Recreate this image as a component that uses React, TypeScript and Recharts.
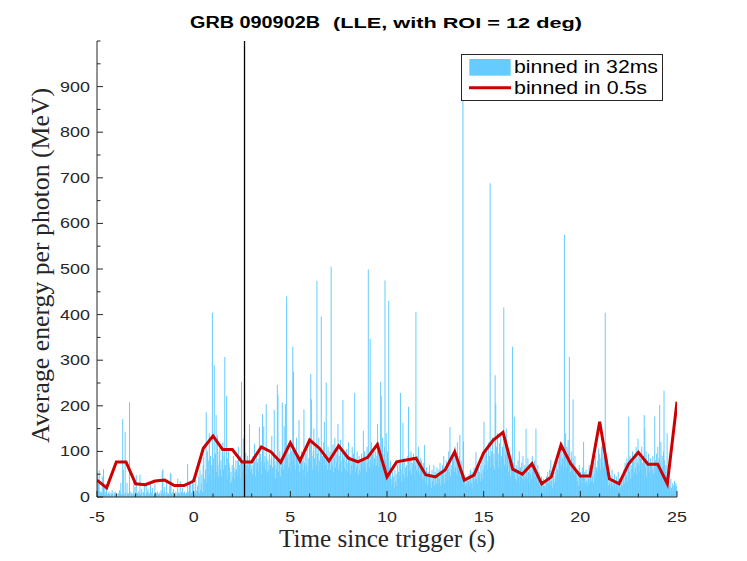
import React from 'react';
import {
  ComposedChart, Bar, Line, XAxis, YAxis, ReferenceLine,
} from 'recharts';

// 32 ms bins, starting at t = -5 s (25 bins = 0.8 s per row)
const energy32ms: number[] = [
  52, 8, 30, 58, 5, 12, 0, 10, 45, 6, 61, 9, 20, 4, 11, 28, 7, 0, 8, 12, 5, 0, 9, 6, 15,
  7, 0, 10, 5, 12, 0, 8, 6, 0, 9, 4, 15, 11, 31, 6, 0, 171, 60, 8, 5, 143, 10, 0, 31, 7,
  9, 5, 208, 12, 0, 7, 10, 4, 8, 35, 6, 22, 11, 48, 0, 9, 5, 13, 7, 49, 6, 10, 18, 0, 8,
  11, 25, 6, 0, 30, 8, 12, 18, 5, 9, 0, 33, 7, 10, 20, 4, 0, 8, 28, 11, 6, 9, 12, 0, 7,
  5, 10, 0, 15, 8, 57, 61, 6, 12, 22, 0, 9, 30, 5, 10, 7, 0, 25, 53, 51, 8, 6, 11, 18, 0,
  9, 6, 12, 0, 7, 40, 10, 5, 8, 35, 0, 11, 6, 20, 9, 4, 12, 0, 7, 10, 5, 72, 8, 13, 30,
  6, 35, 10, 8, 40, 12, 30, 5, 9, 38, 14, 7, 25, 11, 45, 8, 60, 15, 30, 49, 10, 70, 88, 40, 12,
  60, 186, 30, 100, 45, 80, 140, 50, 90, 35, 70, 404, 60, 85, 289, 40, 95, 180, 55, 135, 70, 45, 100, 117, 60,
  80, 45, 100, 120, 60, 90, 307, 70, 50, 222, 85, 40, 100, 75, 65, 30, 55, 35, 70, 45, 90, 64, 40, 55, 80,
  60, 45, 80, 110, 50, 70, 40, 90, 253, 55, 75, 128, 60, 85, 45, 97, 70, 50, 90, 65, 80, 159, 55, 75, 60,
  70, 50, 90, 65, 117, 80, 45, 100, 60, 75, 85, 55, 154, 70, 95, 50, 80, 182, 65, 155, 75, 90, 60, 204, 85,
  55, 80, 60, 95, 45, 70, 85, 134, 65, 50, 90, 191, 70, 40, 80, 60, 246, 225, 55, 75, 100, 45, 85, 65, 207,
  90, 60, 155, 70, 204, 50, 440, 85, 110, 65, 95, 75, 120, 55, 100, 80, 330, 275, 70, 105, 60, 90, 130, 75, 85,
  70, 169, 55, 90, 65, 100, 50, 80, 60, 192, 75, 45, 95, 70, 110, 55, 85, 65, 120, 80, 270, 214, 90, 60, 100,
  150, 85, 60, 110, 70, 474, 95, 55, 130, 80, 65, 100, 396, 75, 90, 60, 120, 165, 85, 70, 251, 95, 60, 110, 80,
  75, 100, 60, 505, 90, 70, 115, 55, 85, 130, 65, 95, 75, 110, 160, 60, 90, 70, 125, 80, 55, 100, 213, 85, 65,
  90, 60, 80, 105, 55, 75, 120, 65, 90, 50, 85, 70, 110, 60, 95, 75, 228, 55, 85, 65, 100, 70, 50, 90, 60,
  75, 55, 95, 65, 80, 145, 60, 100, 70, 85, 55, 110, 75, 499, 90, 65, 347, 80, 120, 60, 95, 70, 105, 85, 65,
  100, 70, 90, 160, 65, 120, 85, 105, 253, 221, 75, 130, 95, 60, 110, 475, 80, 140, 70, 100, 85, 430, 65, 55, 80,
  40, 25, 55, 30, 45, 20, 60, 35, 50, 25, 70, 40, 55, 80, 45, 228, 60, 35, 75, 163, 50, 85, 40, 65, 55,
  70, 45, 90, 198, 55, 80, 60, 100, 50, 75, 65, 95, 45, 85, 70, 406, 60, 90, 55, 110, 75, 50, 85, 65, 80,
  60, 40, 75, 35, 114, 50, 30, 65, 45, 25, 55, 40, 70, 30, 50, 20, 60, 35, 45, 70, 25, 55, 40, 30, 65,
  45, 30, 60, 40, 75, 25, 55, 35, 70, 45, 90, 30, 60, 50, 80, 40, 65, 35, 100, 55, 153, 45, 70, 60, 85,
  70, 95, 55, 110, 65, 85, 50, 120, 75, 60, 90, 136, 45, 80, 60, 40, 905, 122, 35, 50, 25, 40, 30, 45, 20,
  35, 50, 25, 60, 40, 30, 55, 20, 45, 65, 35, 50, 99, 40, 60, 30, 75, 45, 55, 35, 70, 50, 85, 40, 60,
  165, 70, 95, 55, 110, 80, 60, 120, 75, 90, 688, 65, 100, 85, 130, 70, 95, 60, 267, 205, 110, 80, 140, 65, 95,
  118, 75, 140, 90, 60, 110, 85, 416, 70, 125, 95, 150, 65, 100, 80, 55, 90, 70, 45, 85, 60, 330, 50, 75, 176,
  55, 40, 70, 35, 60, 80, 45, 100, 30, 65, 50, 75, 40, 90, 55, 35, 70, 45, 150, 60, 40, 85, 55, 30, 65,
  50, 75, 40, 90, 55, 65, 35, 80, 45, 150, 60, 30, 70, 40, 55, 25, 35, 20, 45, 15, 30, 40, 10, 25, 35,
  20, 45, 15, 55, 30, 40, 60, 25, 81, 35, 50, 20, 65, 40, 30, 55, 45, 70, 35, 60, 80, 50, 95, 65, 110,
  70, 120, 85, 60, 100, 575, 90, 140, 65, 110, 80, 125, 95, 307, 70, 55, 100, 85, 60, 214, 75, 50, 90, 65, 45,
  60, 35, 50, 25, 70, 40, 55, 30, 45, 65, 20, 121, 40, 55, 30, 60, 35, 25, 50, 40, 70, 30, 45, 55, 35,
  45, 60, 30, 75, 50, 90, 40, 65, 55, 80, 106, 70, 95, 60, 85, 110, 75, 130, 65, 90, 100, 404, 70, 55, 85,
  40, 25, 55, 30, 45, 20, 35, 60, 25, 40, 15, 50, 30, 20, 45, 35, 25, 55, 15, 40, 30, 20, 35, 45, 25,
  40, 60, 30, 75, 50, 45, 85, 35, 65, 176, 55, 90, 40, 70, 60, 100, 45, 80, 55, 95, 65, 110, 50, 75, 128,
  70, 95, 55, 85, 60, 110, 75, 50, 90, 180, 150, 65, 100, 45, 80, 60, 95, 70, 55, 85, 40, 75, 60, 90, 50,
  65, 177, 80, 55, 95, 70, 110, 60, 85, 202, 75, 120, 50, 90, 65, 100, 233, 80, 55, 70, 45, 140, 30, 20, 35,
  25, 15, 40, 20, 10, 30, 25, 15, 35, 20, 30, 25,
];

// 0.5 s bins, one value every 0.5 s from -5 to 25
const energy05s: number[] = [
  37, 20, 77, 77, 29, 27, 35, 37, 25, 25,
  35, 107, 134, 104, 104, 77, 77, 110, 99, 76,
  119, 79, 125, 107, 79, 112, 85, 77, 87, 115,
  44, 77, 81, 85, 49, 44, 59, 99, 37, 48,
  97, 125, 142, 61, 50, 73, 29, 44, 114, 73,
  46, 46, 165, 40, 29, 73, 98, 72, 72, 29,
  209,
];

const xTicks = [-5, -4, -3, -2, -1, 0, 1, 2, 3, 4, 5, 6, 7, 8, 9, 10, 11, 12, 13, 14, 15, 16, 17, 18, 19, 20, 21, 22, 23, 24, 25];
const xLabels = [-5, 0, 5, 10, 15, 20, 25];
const yTicks = [0, 50, 100, 150, 200, 250, 300, 350, 400, 450, 500, 550, 600, 650, 700, 750, 800, 850, 900, 950, 1000];
const yLabels = [0, 100, 200, 300, 400, 500, 600, 700, 800, 900];
const triggerMarker = 2.63;

const barRows = energy32ms.map((e, i) => ({ t: -5 + 0.032 * (i + 0.5), e }));
const lineRows = energy05s.map((e, i) => ({ t: -5 + 0.5 * i, e }));

const axisColor = '#262626';
const barColor = '#66ccff';
const sans = '"Liberation Sans", Arial, Helvetica, sans-serif';
const serif = '"Liberation Serif", "Times New Roman", serif';

const tickText = (x: number, y: number, value: number, anchor: 'middle' | 'end') => (
  <text
    x={0}
    y={0}
    transform={`translate(${x},${y}) scale(1.28,1)`}
    textAnchor={anchor}
    fontFamily={sans}
    fontSize={14}
    fill={axisColor}
  >
    {value}
  </text>
);

const BottomTick = (p: any) => {
  const major = xLabels.includes(p.payload.value);
  return (
    <g>
      <line x1={p.x} x2={p.x} y1={p.y} y2={p.y - (major ? 6 : 3.5)} stroke={axisColor} />
      {major && tickText(p.x, p.y + 25, p.payload.value, 'middle')}
    </g>
  );
};

const TopTick = (p: any) => {
  const major = xLabels.includes(p.payload.value);
  return <line x1={p.x} x2={p.x} y1={p.y} y2={p.y + (major ? 6 : 3.5)} stroke={axisColor} />;
};

const LeftTick = (p: any) => {
  const major = yLabels.includes(p.payload.value);
  return (
    <g>
      <line x1={p.x} x2={p.x + (major ? 6 : 3.5)} y1={p.y} y2={p.y} stroke={axisColor} />
      {major && tickText(p.x - 7, p.y + 5, p.payload.value, 'end')}
    </g>
  );
};

const RightTick = (p: any) => {
  const major = p.payload.value % 100 === 0;
  return <line x1={p.x} x2={p.x - (major ? 6 : 3.5)} y1={p.y} y2={p.y} stroke={axisColor} />;
};

// the library squeezes 32 ms bars below a pixel; draw each one 1 px wide around its own centre
const ThinBar = (p: any) => {
  if (!p.height || p.height <= 0) return <g />;
  const cx = p.x + p.width / 2;
  return <rect x={cx - 0.5} y={p.y} width={1} height={p.height} fill={barColor} />;
};

const App: React.FC = () => (
  <div style={{ position: 'fixed', left: 0, top: 0, width: 747, height: 561, background: '#fff' }}>
    <ComposedChart width={747} height={561} data={barRows} margin={{ top: 41, right: 70, bottom: 0, left: 0 }}>
      <XAxis
        xAxisId="b" dataKey="t" type="number" domain={[-5, 25]} ticks={xTicks} interval={0}
        height={64} tickSize={0} tickMargin={0} tickLine={false} tick={BottomTick}
        axisLine={{ stroke: axisColor }} allowDataOverflow
      />
      <XAxis
        xAxisId="t" orientation="top" dataKey="t" type="number" domain={[-5, 25]} ticks={xTicks} interval={0}
        height={0} tickSize={0} tickMargin={0} tickLine={false} tick={TopTick}
        axisLine={{ stroke: axisColor }} allowDataOverflow
      />
      <YAxis
        yAxisId="l" type="number" domain={[0, 1000]} ticks={yTicks} interval={0}
        width={97} tickSize={0} tickMargin={0} tickLine={false} tick={LeftTick}
        axisLine={{ stroke: axisColor }} allowDataOverflow
      />
      <YAxis
        yAxisId="r" orientation="right" type="number" domain={[0, 1000]} ticks={yTicks} interval={0}
        width={0} tickSize={0} tickMargin={0} tickLine={false} tick={RightTick}
        axisLine={{ stroke: axisColor }} allowDataOverflow
      />
      <Bar
        xAxisId="b" yAxisId="l" dataKey="e" name="binned in 32ms"
        fill={barColor} shape={ThinBar} isAnimationActive={false}
      />
      <ReferenceLine xAxisId="b" yAxisId="l" x={triggerMarker} stroke="#000" strokeWidth={1.3} />
      <Line
        xAxisId="b" yAxisId="l" data={lineRows} dataKey="e" name="binned in 0.5s"
        type="linear" stroke="#cc0000" strokeWidth={3} dot={false} activeDot={false}
        isAnimationActive={false}
      />
    </ComposedChart>

    <svg width={747} height={561} style={{ position: 'absolute', left: 0, top: 0, pointerEvents: 'none' }}>
      <text x={190} y={27.7} fontFamily={sans} fontWeight="bold" fontSize={16} textLength={130} lengthAdjust="spacingAndGlyphs">GRB 090902B</text>
      <text x={333} y={27.7} fontFamily={sans} fontWeight="bold" fontSize={14.5} textLength={249} lengthAdjust="spacingAndGlyphs">(LLE, with ROI = 12 deg)</text>

      <text x={279} y={547.3} fontFamily={serif} fontSize={24.5} fill={axisColor} textLength={216} lengthAdjust="spacingAndGlyphs">Time since trigger (s)</text>
      <text
        x={0} y={0} transform="translate(49,443) rotate(-90)"
        fontFamily={serif} fontSize={24.5} fill={axisColor} textLength={355} lengthAdjust="spacingAndGlyphs"
      >
        Average energy per photon (MeV)
      </text>

      <rect x={461.5} y={54.5} width={201} height={46} fill="#fff" stroke={axisColor} strokeWidth={1} />
      <rect x={469.3} y={59} width={41.4} height={16.7} fill={barColor} />
      <line x1={469} x2={511} y1={87.7} y2={87.7} stroke="#cc0000" strokeWidth={3} />
      <text x={514} y={73.3} fontFamily={sans} fontSize={18.5} fill="#000" textLength={144} lengthAdjust="spacingAndGlyphs">binned in 32ms</text>
      <text x={514} y={94.3} fontFamily={sans} fontSize={18.5} fill="#000" textLength={133} lengthAdjust="spacingAndGlyphs">binned in 0.5s</text>
    </svg>
  </div>
);

export default App;
